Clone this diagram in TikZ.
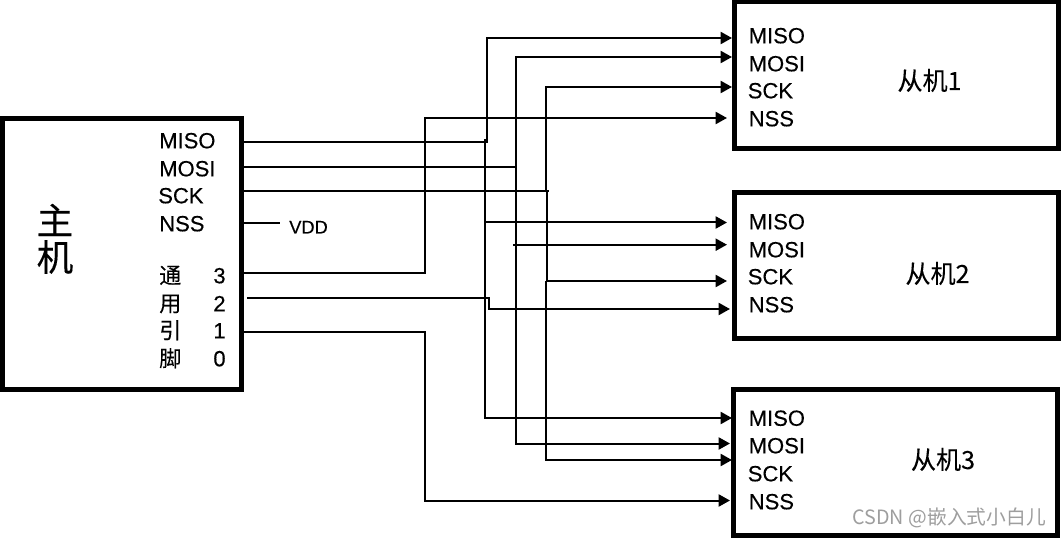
\documentclass[tikz,border=0pt]{standalone}
\usepackage{fontspec}
\setmainfont{Liberation Sans}[FakeBold=0.3]
\newfontfamily\cjk{Noto Sans CJK SC}[FakeBold=0.15]
\newfontfamily\cjklight{Noto Sans CJK SC}
\usetikzlibrary{arrows.meta}
\def\pxu{0.75pt}
\tikzset{
  box/.style={draw=black,line width=3.75pt,fill=white,inner sep=0pt,outer sep=0pt},
  wire/.style={draw=black,line width=1.5pt,line join=miter},
  arrowwire/.style={wire,-{Triangle[length=8.5pt,width=9pt]}},
  pin/.style={anchor=base west,inner sep=0pt,font=\fontsize{16.5}{18}\selectfont},
  pinc/.style={anchor=base west,inner sep=0pt,font=\fontsize{16.5}{18}\selectfont\cjk},
  pinn/.style={anchor=base,inner sep=0pt,font=\fontsize{16.5}{18}\selectfont},
  title/.style={anchor=base,inner sep=0pt,font=\fontsize{18.8}{20}\selectfont\cjk},
  big/.style={anchor=center,inner sep=0pt,font=\fontsize{27.5}{30}\selectfont\cjk},
}
\begin{document}
\begin{tikzpicture}[x=0.75pt,y=-0.75pt]
\useasboundingbox (0,0) rectangle (1061,538);
\fill[white] (0,0) rectangle (1061,538);
% boxes
\node[box,minimum width=239*\pxu,minimum height=271*\pxu] (master) at (122,254) {};
\node[box,minimum width=324*\pxu,minimum height=147*\pxu] (s1) at (896,75.5) {};
\node[box,minimum width=324*\pxu,minimum height=146*\pxu] (s2) at (896,265.5) {};
\node[box,minimum width=324*\pxu,minimum height=146*\pxu] (s3) at (895.5,462.5) {};
% master text
\node[big] (zhu) at (55,220) {主};
\node[big] (ji) at (55,257) {机};
\node[pin] (mmiso) at (159,148.3) {MISO};
\node[pin] (mmosi) at (159,176.3) {MOSI};
\node[pin] (msck) at (158,203.3) {SCK};
\node[pin] (mnss) at (159,231.3) {NSS};
\node[pinc] (tong) at (159,283.5) {通};
\node[pinc] (yong) at (159,311.5) {用};
\node[pinc] (yin) at (159,338.5) {引};
\node[pinc] (jiao) at (159,366.5) {脚};
\node[pinn] (n3) at (219.5,283.3) {3};
\node[pinn] (n2) at (219.5,311.3) {2};
\node[pinn] (n1) at (219.5,338.3) {1};
\node[pinn] (n0) at (219.5,366.3) {0};
\node[anchor=base west,inner sep=0pt,font=\fontsize{13.7}{15}\selectfont] (vdd) at (289,233.5) {VDD};
% slave text
\node[pin] (amiso) at (748.5,43.3) {MISO};
\node[pin] (amosi) at (748.5,71.3) {MOSI};
\node[pin] (asck) at (747.5,98.3) {SCK};
\node[pin] (anss) at (748.5,126.3) {NSS};
\node[title] (ta) at (929.5,90) {从机1};
\node[pin] (bmiso) at (748.5,229.3) {MISO};
\node[pin] (bmosi) at (748.5,257.3) {MOSI};
\node[pin] (bsck) at (747.5,284.3) {SCK};
\node[pin] (bnss) at (748.5,312.3) {NSS};
\node[title] (tb) at (937.5,283) {从机2};
\node[pin] (cmiso) at (748.5,425.8) {MISO};
\node[pin] (cmosi) at (748.5,453.3) {MOSI};
\node[pin] (csck) at (747.5,481.3) {SCK};
\node[pin] (cnss) at (748.5,509.3) {NSS};
\node[title] (tc) at (943,469) {从机3};
\node[anchor=base east,inner sep=0pt,text=black!38,font=\fontsize{14.8}{16}\selectfont\cjklight] (mark) at (1046,524.5) {CSDN @嵌入式小白儿};
% coordinates
\coordinate (mo1) at (243,142);
\coordinate (mo2) at (243,167);
\coordinate (mo3) at (243,191);
\coordinate (mo4) at (243,223);
\coordinate (mo5) at (243,273.5);
\coordinate (mo6) at (247,298);
\coordinate (mo7) at (243,332);
\coordinate (vddend) at (280,223);
\coordinate (j1a) at (487,142);
\coordinate (j1b) at (485,139);
\coordinate (j1c) at (485,222.5);
\coordinate (j1d) at (487,38);
\coordinate (j1e) at (485,418);
\coordinate (j2a) at (516,167);
\coordinate (j2b) at (516,57);
\coordinate (j2c) at (513,244.7);
\coordinate (j2d) at (516,443.5);
\coordinate (j3a) at (548.5,191);
\coordinate (j3b) at (545.5,191);
\coordinate (j3c) at (545.5,87);
\coordinate (j3d) at (547,191);
\coordinate (j3e) at (547,281);
\coordinate (j3f) at (546,281);
\coordinate (j3g) at (546,460);
\coordinate (j5a) at (424.5,273.5);
\coordinate (j5b) at (424.5,118);
\coordinate (j6a) at (489,298);
\coordinate (j6b) at (489,309);
\coordinate (j7a) at (424.5,332);
\coordinate (j7b) at (424.5,500.5);
\coordinate (a1) at (732,38);
\coordinate (a2) at (732,57);
\coordinate (a3) at (732,87);
\coordinate (a4) at (727,118);
\coordinate (b1) at (727,222.5);
\coordinate (b2) at (727,244.7);
\coordinate (b3) at (727,281);
\coordinate (b4) at (730,309);
\coordinate (c1) at (732,418);
\coordinate (c2) at (730,443.5);
\coordinate (c3) at (732,460);
\coordinate (c4) at (730,500.5);
% connectors
\draw[wire] (mo4) -- (vddend);
\draw[arrowwire] (mo1) -- (j1a) -- (j1d) -- (a1);
\draw[wire] (j1b) -- (j1c);
\draw[arrowwire] (j1c) -- (b1);
\draw[arrowwire] (j1c) -- (j1e) -- (c1);
\draw[arrowwire] (mo2) -- (j2a) -- (j2b) -- (a2);
\draw[arrowwire] (j2c) -- (b2);
\draw[arrowwire] (j2a) -- (j2d) -- (c2);
\draw[wire] (mo3) -- (j3a);
\draw[arrowwire] (j3b) -- (j3c) -- (a3);
\draw[wire] (j3d) -- (j3e);
\draw[arrowwire] (j3e) -- (b3);
\draw[arrowwire] (j3f) -- (j3g) -- (c3);
\draw[arrowwire] (mo5) -- (j5a) -- (j5b) -- (a4);
\draw[arrowwire] (mo6) -- (j6a) -- (j6b) -- (b4);
\draw[arrowwire] (mo7) -- (j7a) -- (j7b) -- (c4);
\end{tikzpicture}
\end{document}
